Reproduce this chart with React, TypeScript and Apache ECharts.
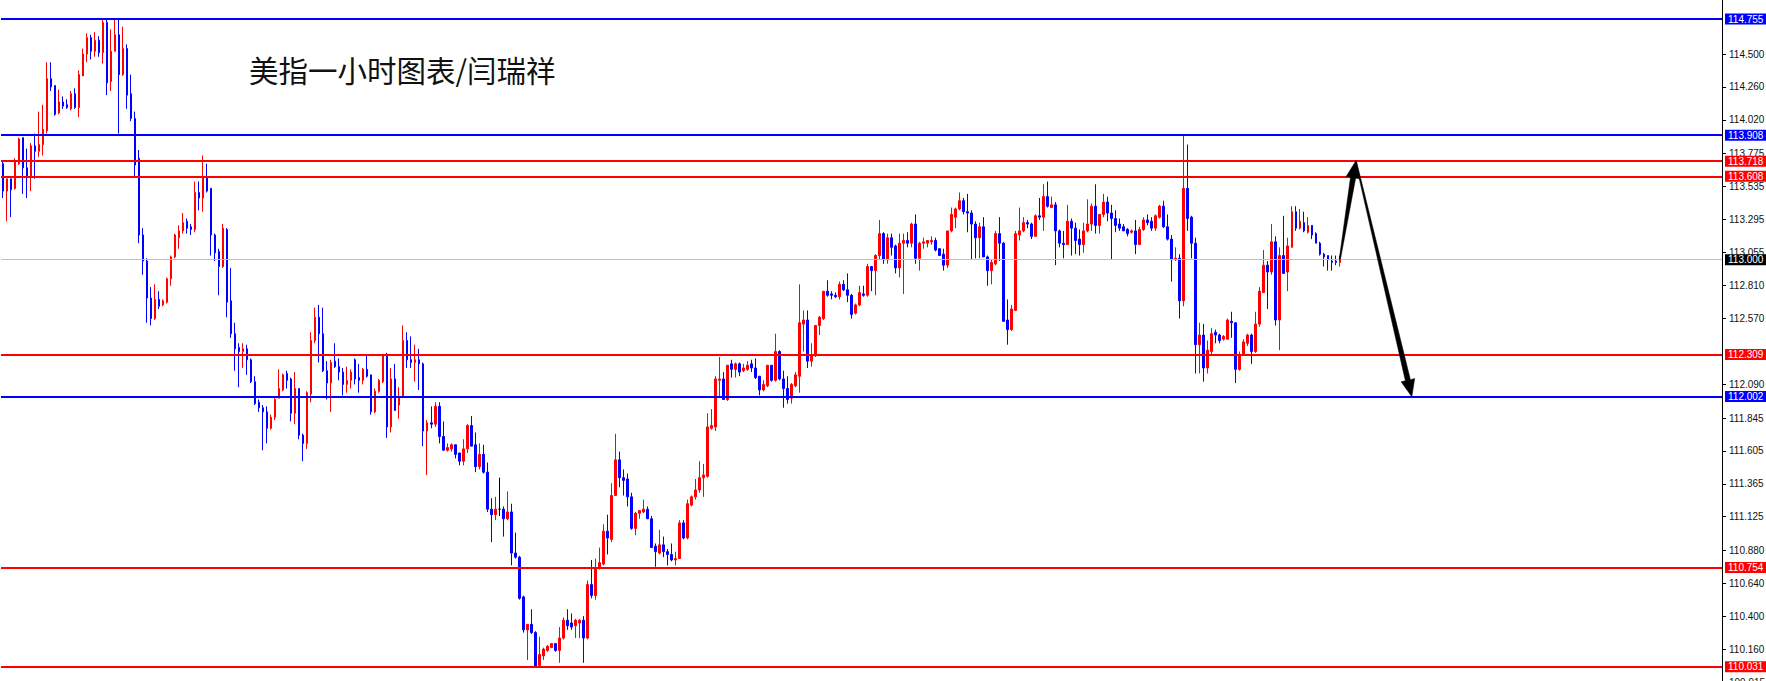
import React, { useEffect, useRef } from "react";
import * as echarts from "echarts";

// ---- data (hourly candles) ----
const opens = [
  113.70, 113.50, 113.59, 113.52, 113.70, 113.89, 113.67, 113.61, 113.83, 113.79,
  113.84, 113.94, 114.32, 114.27, 114.07, 114.15, 114.13, 114.10, 114.21, 114.11,
  114.34, 114.50, 114.62, 114.52, 114.60, 114.51, 114.73, 114.30, 114.52, 114.64,
  114.35, 114.54, 114.21, 114.03, 113.74, 113.18, 112.99, 112.72, 112.57, 112.71,
  112.67, 112.69, 112.86, 113.02, 113.16, 113.21, 113.28, 113.24, 113.22, 113.49,
  113.45, 113.60, 113.52, 113.18, 113.06, 112.95, 113.22, 112.70, 112.46, 112.36,
  112.33, 112.35, 112.27, 112.11, 111.96, 111.92, 111.89, 111.77, 111.85, 111.99,
  112.05, 112.17, 112.13, 111.88, 112.06, 111.72, 111.66, 112.02, 112.41, 112.58,
  112.46, 112.19, 112.10, 112.26, 112.22, 112.18, 112.09, 112.12, 112.27, 112.14,
  112.12, 112.20, 112.16, 111.89, 112.04, 112.11, 112.31, 111.78, 112.13, 111.94,
  112.00, 112.41, 112.27, 112.25, 112.27, 112.24, 111.75, 111.81, 111.80, 111.93,
  111.71, 111.61, 111.62, 111.65, 111.59, 111.53, 111.62, 111.79, 111.65, 111.49,
  111.58, 111.45, 111.18, 111.14, 111.18, 111.18, 111.11, 111.16, 110.86, 110.83,
  110.54, 110.30, 110.34, 110.28, 110.04, 110.11, 110.15, 110.17, 110.20, 110.15,
  110.24, 110.37, 110.35, 110.33, 110.35, 110.37, 110.24, 110.63, 110.55, 110.75,
  110.78, 111.02, 110.96, 111.28, 111.54, 111.41, 111.40, 111.27, 111.04, 111.15,
  111.16, 111.18, 111.11, 110.91, 110.86, 110.92, 110.87, 110.85, 110.81, 110.82,
  111.08, 110.97, 111.21, 111.27, 111.32, 111.41, 111.42, 111.77, 111.78, 112.12,
  112.13, 111.98, 112.24, 112.20, 112.24, 112.19, 112.20, 112.24, 112.21, 112.15,
  112.05, 112.08, 112.23, 112.12, 112.33, 112.13, 112.06, 111.99, 112.08, 112.15,
  112.53, 112.56, 112.26, 112.30, 112.52, 112.57, 112.77, 112.75, 112.74, 112.73,
  112.82, 112.78, 112.74, 112.61, 112.67, 112.75, 112.74, 112.95, 112.92, 113.03,
  113.19, 113.00, 113.16, 113.10, 112.94, 113.12, 113.14, 113.12, 113.26, 113.01,
  113.12, 113.12, 113.13, 113.14, 113.08, 113.04, 112.96, 113.21, 113.31, 113.37,
  113.43, 113.35, 113.34, 113.26, 113.16, 113.24, 113.02, 112.92, 112.97, 113.19,
  113.12, 112.56, 112.49, 112.63, 113.18, 113.21, 113.27, 113.26, 113.17, 113.32,
  113.31, 113.46, 113.38, 113.40, 113.21, 113.12, 113.11, 113.28, 113.23, 113.15,
  113.11, 113.21, 113.26, 113.39, 113.25, 113.33, 113.42, 113.34, 113.30, 113.26,
  113.24, 113.22, 113.20, 113.21, 113.11, 113.22, 113.29, 113.28, 113.23, 113.31,
  113.39, 113.24, 113.15, 113.00, 113.01, 112.70, 113.52, 113.31, 113.12, 112.38,
  112.45, 112.21, 112.33, 112.47, 112.45, 112.42, 112.42, 112.55, 112.54, 112.20,
  112.31, 112.39, 112.45, 112.33, 112.53, 112.76, 112.96, 112.91, 113.13, 112.56,
  113.03, 112.91, 113.09, 113.35, 113.23, 113.27, 113.20, 113.25, 113.19, 113.12,
  113.04, 113.03, 112.99, 112.99, 112.98,
];

const highs = [
  113.72, 113.59, 113.59, 113.74, 113.89, 113.89, 113.81, 113.85, 113.92, 114.08,
  114.13, 114.44, 114.44, 114.27, 114.24, 114.19, 114.17, 114.23, 114.25, 114.38,
  114.54, 114.65, 114.64, 114.66, 114.63, 114.75, 114.75, 114.68, 114.75, 114.75,
  114.70, 114.57, 114.35, 114.08, 113.80, 113.23, 113.01, 112.80, 112.82, 112.77,
  112.71, 112.87, 113.03, 113.19, 113.25, 113.34, 113.30, 113.26, 113.57, 113.57,
  113.76, 113.70, 113.52, 113.19, 113.08, 113.26, 113.23, 112.94, 112.54, 112.39,
  112.39, 112.38, 112.28, 112.15, 111.98, 111.94, 111.93, 111.87, 111.99, 112.20,
  112.17, 112.19, 112.14, 112.18, 112.06, 111.73, 112.04, 112.47, 112.65, 112.67,
  112.65, 112.26, 112.27, 112.39, 112.28, 112.21, 112.22, 112.20, 112.28, 112.24,
  112.21, 112.30, 112.16, 112.06, 112.13, 112.31, 112.32, 112.21, 112.24, 112.07,
  112.52, 112.47, 112.44, 112.38, 112.35, 112.25, 111.83, 111.93, 111.96, 111.96,
  111.82, 111.66, 111.66, 111.65, 111.59, 111.69, 111.80, 111.86, 111.74, 111.66,
  111.65, 111.52, 111.26, 111.27, 111.41, 111.20, 111.31, 111.22, 111.01, 110.84,
  110.55, 110.34, 110.45, 110.29, 110.25, 110.17, 110.19, 110.20, 110.20, 110.32,
  110.39, 110.45, 110.42, 110.38, 110.38, 110.40, 110.66, 110.81, 110.82, 110.90,
  111.07, 111.14, 111.37, 111.73, 111.60, 111.47, 111.44, 111.30, 111.16, 111.17,
  111.25, 111.20, 111.13, 110.93, 111.03, 110.98, 110.89, 110.93, 110.87, 111.10,
  111.10, 111.25, 111.28, 111.40, 111.53, 111.51, 111.88, 111.91, 112.15, 112.29,
  112.18, 112.23, 112.27, 112.25, 112.25, 112.24, 112.26, 112.27, 112.28, 112.15,
  112.12, 112.23, 112.23, 112.46, 112.34, 112.19, 112.15, 112.10, 112.18, 112.82,
  112.63, 112.63, 112.39, 112.52, 112.59, 112.77, 112.85, 112.77, 112.76, 112.84,
  112.85, 112.90, 112.75, 112.68, 112.81, 112.81, 112.97, 112.95, 113.04, 113.29,
  113.20, 113.19, 113.19, 113.11, 113.19, 113.19, 113.20, 113.27, 113.33, 113.13,
  113.16, 113.14, 113.17, 113.16, 113.08, 113.08, 113.21, 113.38, 113.38, 113.49,
  113.45, 113.48, 113.36, 113.28, 113.27, 113.31, 113.03, 113.00, 113.21, 113.31,
  113.13, 112.71, 112.67, 113.21, 113.38, 113.31, 113.29, 113.27, 113.33, 113.45,
  113.55, 113.57, 113.46, 113.42, 113.22, 113.21, 113.40, 113.30, 113.27, 113.22,
  113.27, 113.44, 113.41, 113.55, 113.33, 113.48, 113.46, 113.40, 113.36, 113.30,
  113.26, 113.23, 113.22, 113.29, 113.24, 113.31, 113.33, 113.31, 113.33, 113.40,
  113.43, 113.33, 113.18, 113.09, 113.04, 113.91, 113.84, 113.32, 113.16, 112.54,
  112.53, 112.41, 112.50, 112.49, 112.46, 112.45, 112.57, 112.62, 112.54, 112.33,
  112.42, 112.46, 112.46, 112.62, 112.80, 113.07, 112.99, 113.26, 113.17, 113.09,
  113.32, 113.16, 113.39, 113.39, 113.37, 113.35, 113.31, 113.25, 113.20, 113.13,
  113.05, 113.03, 113.03, 113.03, 113.03,
];

const lows = [
  113.45, 113.28, 113.31, 113.51, 113.69, 113.48, 113.45, 113.50, 113.59, 113.75,
  113.76, 113.92, 114.23, 114.05, 114.06, 114.10, 114.10, 114.09, 114.10, 114.04,
  114.34, 114.44, 114.46, 114.48, 114.48, 114.43, 114.20, 114.23, 114.52, 113.92,
  114.34, 114.10, 114.01, 113.61, 113.12, 112.89, 112.54, 112.52, 112.56, 112.64,
  112.66, 112.68, 112.81, 113.01, 113.08, 113.19, 113.19, 113.18, 113.20, 113.36,
  113.35, 113.49, 113.03, 112.99, 112.74, 112.94, 112.58, 112.43, 112.19, 112.07,
  112.21, 112.16, 112.10, 111.94, 111.89, 111.61, 111.66, 111.76, 111.83, 111.99,
  112.04, 112.06, 111.82, 111.80, 111.69, 111.53, 111.62, 111.96, 112.39, 112.25,
  112.18, 111.98, 111.89, 112.21, 112.12, 112.01, 112.03, 112.06, 112.09, 112.03,
  112.09, 112.14, 111.87, 111.88, 112.03, 112.10, 111.70, 111.74, 111.90, 111.84,
  111.99, 112.21, 112.21, 112.11, 112.05, 111.64, 111.43, 111.77, 111.78, 111.66,
  111.61, 111.60, 111.60, 111.55, 111.50, 111.50, 111.59, 111.64, 111.45, 111.47,
  111.44, 111.16, 110.94, 111.10, 111.13, 110.98, 111.10, 110.77, 110.82, 110.52,
  110.28, 110.08, 110.27, 110.03, 110.03, 110.08, 110.14, 110.17, 110.14, 110.06,
  110.23, 110.30, 110.30, 110.24, 110.24, 110.06, 110.23, 110.53, 110.52, 110.74,
  110.77, 110.85, 110.94, 111.28, 111.34, 111.28, 111.20, 111.03, 110.99, 111.11,
  111.15, 111.11, 110.90, 110.76, 110.85, 110.83, 110.77, 110.80, 110.77, 110.82,
  110.96, 110.96, 111.20, 111.25, 111.30, 111.27, 111.41, 111.76, 111.75, 111.99,
  111.98, 111.97, 112.14, 112.14, 112.15, 112.18, 112.19, 112.18, 112.13, 112.01,
  112.04, 112.07, 112.11, 112.11, 112.12, 111.92, 111.95, 111.95, 112.07, 112.03,
  112.33, 112.21, 112.22, 112.29, 112.45, 112.56, 112.73, 112.71, 112.72, 112.71,
  112.77, 112.69, 112.57, 112.60, 112.66, 112.73, 112.73, 112.77, 112.74, 113.00,
  112.97, 112.97, 113.03, 112.90, 112.87, 112.75, 113.09, 113.09, 112.97, 112.92,
  113.08, 113.09, 113.11, 113.06, 113.03, 112.92, 112.94, 113.20, 113.23, 113.36,
  113.33, 113.20, 113.00, 113.01, 113.01, 113.02, 112.81, 112.82, 112.96, 112.99,
  112.55, 112.38, 112.48, 112.63, 113.14, 113.20, 113.23, 113.15, 113.17, 113.29,
  113.21, 113.38, 113.38, 112.96, 113.09, 113.01, 113.11, 113.03, 113.04, 113.03,
  113.05, 113.20, 113.21, 113.19, 113.19, 113.31, 113.28, 113.00, 113.20, 113.21,
  113.21, 113.17, 113.19, 113.04, 113.11, 113.21, 113.25, 113.21, 113.21, 113.30,
  113.23, 113.14, 112.84, 112.99, 112.57, 112.66, 113.21, 113.01, 112.17, 112.17,
  112.11, 112.17, 112.30, 112.39, 112.39, 112.41, 112.42, 112.43, 112.10, 112.19,
  112.30, 112.37, 112.24, 112.32, 112.51, 112.76, 112.64, 112.89, 112.52, 112.34,
  112.90, 112.77, 113.09, 113.21, 113.22, 113.20, 113.19, 113.15, 113.12, 113.03,
  112.95, 112.92, 112.92, 112.96, 112.95,
];

const closes = [
  113.50, 113.59, 113.51, 113.72, 113.88, 113.67, 113.61, 113.83, 113.79, 113.84,
  113.95, 114.32, 114.26, 114.06, 114.15, 114.12, 114.11, 114.21, 114.11, 114.35,
  114.50, 114.62, 114.52, 114.60, 114.51, 114.73, 114.29, 114.52, 114.64, 114.35,
  114.54, 114.20, 114.03, 113.69, 113.18, 112.99, 112.72, 112.57, 112.71, 112.66,
  112.70, 112.86, 113.02, 113.18, 113.21, 113.27, 113.23, 113.22, 113.49, 113.45,
  113.60, 113.50, 113.18, 113.05, 112.95, 113.23, 112.69, 112.46, 112.35, 112.33,
  112.35, 112.27, 112.11, 111.95, 111.92, 111.89, 111.77, 111.85, 111.98, 112.06,
  112.16, 112.12, 111.88, 112.06, 111.72, 111.66, 112.03, 112.41, 112.58, 112.46,
  112.19, 112.10, 112.25, 112.22, 112.18, 112.09, 112.12, 112.18, 112.13, 112.12,
  112.20, 112.15, 111.89, 112.04, 112.12, 112.31, 111.78, 112.13, 111.90, 112.00,
  112.41, 112.27, 112.25, 112.27, 112.24, 111.75, 111.81, 111.80, 111.93, 111.71,
  111.61, 111.63, 111.65, 111.58, 111.53, 111.62, 111.79, 111.64, 111.49, 111.58,
  111.45, 111.18, 111.14, 111.18, 111.18, 111.11, 111.16, 110.86, 110.83, 110.53,
  110.30, 110.34, 110.28, 110.03, 110.12, 110.16, 110.18, 110.20, 110.15, 110.24,
  110.37, 110.33, 110.32, 110.37, 110.37, 110.24, 110.63, 110.55, 110.75, 110.79,
  111.02, 110.97, 111.28, 111.54, 111.41, 111.39, 111.27, 111.04, 111.15, 111.17,
  111.18, 111.11, 110.90, 110.87, 110.92, 110.87, 110.85, 110.81, 110.82, 111.08,
  110.97, 111.22, 111.27, 111.32, 111.41, 111.43, 111.78, 111.79, 112.13, 112.13,
  111.98, 112.23, 112.20, 112.24, 112.18, 112.21, 112.23, 112.21, 112.14, 112.05,
  112.09, 112.23, 112.12, 112.33, 112.13, 112.06, 111.98, 112.09, 112.16, 112.54,
  112.56, 112.26, 112.30, 112.52, 112.58, 112.77, 112.74, 112.74, 112.73, 112.82,
  112.78, 112.74, 112.60, 112.67, 112.76, 112.74, 112.95, 112.92, 113.03, 113.19,
  113.00, 113.16, 113.09, 112.94, 113.12, 113.14, 113.12, 113.26, 113.01, 113.12,
  113.13, 113.14, 113.14, 113.07, 113.03, 112.96, 113.21, 113.33, 113.37, 113.43,
  113.35, 113.34, 113.26, 113.16, 113.24, 113.02, 112.92, 112.98, 113.19, 113.12,
  112.55, 112.49, 112.64, 113.19, 113.21, 113.27, 113.26, 113.17, 113.32, 113.31,
  113.46, 113.39, 113.40, 113.21, 113.12, 113.11, 113.28, 113.23, 113.14, 113.11,
  113.21, 113.26, 113.39, 113.25, 113.33, 113.42, 113.34, 113.30, 113.25, 113.23,
  113.21, 113.19, 113.21, 113.11, 113.22, 113.29, 113.27, 113.23, 113.32, 113.39,
  113.24, 113.15, 113.00, 113.01, 112.70, 113.52, 113.30, 113.12, 112.38, 112.45,
  112.21, 112.34, 112.46, 112.45, 112.41, 112.44, 112.56, 112.54, 112.20, 112.31,
  112.40, 112.45, 112.33, 112.53, 112.77, 112.96, 112.91, 113.13, 112.56, 113.03,
  112.90, 113.10, 113.35, 113.23, 113.28, 113.21, 113.25, 113.18, 113.12, 113.04,
  113.02, 113.00, 112.98, 112.98, 113.00,
];

// horizontal price levels drawn on the chart
const blueLevels = [114.755, 113.908, 112.002];
const redLevels = [113.718, 113.608, 112.309, 110.754, 110.031];
const lastPrice = 113.0;

// right price-scale tick labels
const tickLabels = [
  114.5, 114.26, 114.02, 113.775, 113.535, 113.295, 113.055, 112.81, 112.57,
  112.09, 111.845, 111.605, 111.365, 111.125, 110.88, 110.64, 110.4, 110.16, 109.915,
];

// hand-drawn forecast arrow: [candle slot, price] vertices
const arrowPath = [
  [334, 113.0],
  [338, 113.72],
  [352, 112.0],
];

const TOTAL_SLOTS = 430;
const titleText = "美指一小时图表/闫瑞祥";

const RED = "#ff0000";
const BLUE = "#0000ff";
const AXIS_FONT = '"Liberation Sans", Arial, sans-serif';

export default function App() {
  const ref = useRef<HTMLDivElement>(null);

  useEffect(() => {
    if (!ref.current) return;
    const chart = echarts.init(ref.current, null, { renderer: "svg" });

    const n = Math.min(opens.length, highs.length, lows.length, closes.length);
    const categories = Array.from({ length: TOTAL_SLOTS }, (_, i) => String(i));
    const candles = [] as any[];
    for (let i = 0; i < n; i++) {
      const item: any = { value: [opens[i], closes[i], lows[i], highs[i]] };
      if (opens[i] === closes[i]) {
        item.itemStyle = { borderColor: "#000", borderColor0: "#000", color: "#000", color0: "#000" };
      }
      candles.push(item);
    }

    const levelLine = (v: number, color: string) => ({
      yAxis: v,
      lineStyle: { color, width: 2, type: "solid" },
      label: {
        show: true,
        position: "end",
        distance: 3,
        formatter: () => v.toFixed(3),
        color: "#fff",
        backgroundColor: color,
        padding: [1, 3, 0, 3],
        fontSize: 10,
        fontFamily: AXIS_FONT,
      },
    });

    const markData = [
      {
        yAxis: lastPrice,
        lineStyle: { color: "#c0c0c0", width: 1, type: "solid" },
        label: {
          show: true,
          position: "end",
          distance: 3,
          formatter: () => lastPrice.toFixed(3),
          color: "#fff",
          backgroundColor: "#000",
          padding: [1, 3, 0, 3],
          fontSize: 10,
          fontFamily: AXIS_FONT,
        },
      },
      ...blueLevels.map((v) => levelLine(v, BLUE)),
      ...redLevels.map((v) => levelLine(v, RED)),
    ];

    const arrowLegs = [] as number[][];
    for (let k = 0; k < arrowPath.length - 1; k++) {
      arrowLegs.push([arrowPath[k][0], arrowPath[k][1], arrowPath[k + 1][0], arrowPath[k + 1][1]]);
    }

    const option: any = {
      animation: false,
      backgroundColor: "#ffffff",
      grid: {
        left: 1,
        right: 44,
        top: 0,
        bottom: -20,
        containLabel: false,
        outerBoundsMode: "none",
      },
      xAxis: {
        type: "category",
        data: categories,
        boundaryGap: true,
        show: false,
      },
      yAxis: {
        type: "value",
        position: "right",
        min: 109.781,
        max: 114.894,
        scale: true,
        splitLine: { show: false },
        axisLine: { show: true, lineStyle: { color: "#000", width: 1 } },
        axisTick: {
          show: true,
          length: 4,
          lineStyle: { color: "#000" },
          customValues: tickLabels,
        },
        axisLabel: {
          show: true,
          margin: 7,
          color: "#111",
          fontSize: 10,
          fontFamily: AXIS_FONT,
          customValues: tickLabels,
          formatter: (v: number) => v.toFixed(3),
          hideOverlap: false,
        },
      },
      graphic: [
        {
          type: "text",
          left: 249,
          top: 54,
          style: {
            text: titleText,
            font: '29.5px "Noto Sans CJK SC", sans-serif',
            fill: "#111",
          },
          z: 10,
        },
      ],
      series: [
        {
          type: "candlestick",
          data: candles,
          barWidth: 2,
          itemStyle: {
            color: RED,
            color0: BLUE,
            borderColor: RED,
            borderColor0: BLUE,
            borderColorDoji: "#000",
            borderWidth: 1,
          },
          markLine: {
            silent: true,
            symbol: ["none", "none"],
            animation: false,
            precision: 3,
            data: markData,
          },
        },
        {
          type: "custom",
          clip: false,
          silent: true,
          z: 5,
          data: arrowLegs,
          renderItem: (params: any, api: any) => {
            const p0 = api.coord([api.value(0), api.value(1)]);
            const p1 = api.coord([api.value(2), api.value(3)]);
            const dx = p1[0] - p0[0];
            const dy = p1[1] - p0[1];
            const len = Math.sqrt(dx * dx + dy * dy) || 1;
            const ux = dx / len;
            const uy = dy / len;
            const nx = -uy;
            const ny = ux;
            const headLen = 17;
            const headHalf = 7;
            const w0 = 0.6;
            const w1 = 2.6;
            const bx = p1[0] - ux * headLen;
            const by = p1[1] - uy * headLen;
            const points = [
              [p0[0] + nx * w0, p0[1] + ny * w0],
              [bx + nx * w1, by + ny * w1],
              [bx + nx * headHalf, by + ny * headHalf],
              [p1[0], p1[1]],
              [bx - nx * headHalf, by - ny * headHalf],
              [bx - nx * w1, by - ny * w1],
              [p0[0] - nx * w0, p0[1] - ny * w0],
            ];
            return {
              type: "polygon",
              shape: { points },
              style: { fill: "#000", stroke: "#000", lineWidth: 0.5 },
            };
          },
        },
      ],
    };

    chart.setOption(option);
    return () => {
      chart.dispose();
    };
  }, []);

  return (
    <div
      ref={ref}
      style={{ position: "fixed", left: 0, top: 0, width: "1766px", height: "681px", background: "#fff" }}
    />
  );
}
